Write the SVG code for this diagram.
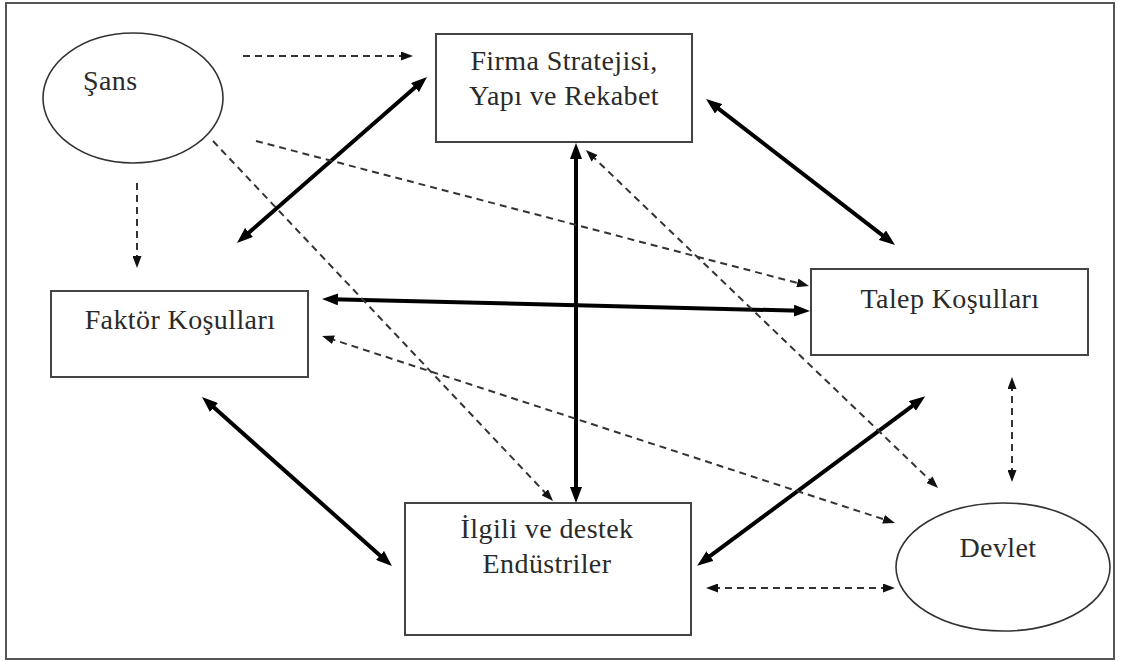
<svg xmlns="http://www.w3.org/2000/svg" width="1121" height="661" viewBox="0 0 1121 661">
<style>
.frame{fill:#fff;stroke:#555;stroke-width:2}
.box{fill:#fff;stroke:#444;stroke-width:2}
.oval{fill:#fff;stroke:#333;stroke-width:1.6}
.lbl{font-family:"Liberation Serif","Times New Roman",serif;font-size:28px;letter-spacing:0.4px;fill:#2a2a2a;text-anchor:middle}
.solid{stroke:#000;stroke-width:4;fill:none}
.dash{stroke:#333;stroke-width:2;stroke-dasharray:7 5;fill:none}
</style>
<defs>
<marker id="hs" viewBox="0 0 16 12" refX="6" refY="6" markerWidth="16" markerHeight="12" markerUnits="userSpaceOnUse" orient="auto-start-reverse"><path d="M0,0 L16,6 L0,12 z" fill="#000"/></marker>
<marker id="hd" viewBox="0 0 12 9" refX="5" refY="4.5" markerWidth="12" markerHeight="9" markerUnits="userSpaceOnUse" orient="auto-start-reverse"><path d="M0,0 L12,4.5 L0,9 z" fill="#111"/></marker>
</defs>
<rect class="frame" x="6" y="3" width="1108" height="656"/>
<g id="connectors">
<line class="solid" x1="244.5" y1="236.4" x2="419.5" y2="83.6" marker-start="url(#hs)" marker-end="url(#hs)"/>
<line class="solid" x1="713.9" y1="105.1" x2="887.1" y2="238.9" marker-start="url(#hs)" marker-end="url(#hs)"/>
<line class="solid" x1="576" y1="153" x2="576" y2="493" marker-start="url(#hs)" marker-end="url(#hs)"/>
<line class="solid" x1="332" y1="299.2" x2="800" y2="310.8" marker-start="url(#hs)" marker-end="url(#hs)"/>
<line class="solid" x1="209.5" y1="403.6" x2="384.5" y2="559.4" marker-start="url(#hs)" marker-end="url(#hs)"/>
<line class="solid" x1="917.2" y1="402.3" x2="705.2" y2="559.7" marker-start="url(#hs)" marker-end="url(#hs)"/>
<line class="dash" x1="243" y1="56" x2="406" y2="56" marker-end="url(#hd)"/>
<line class="dash" x1="137" y1="183" x2="137" y2="261" marker-end="url(#hd)"/>
<line class="dash" x1="213" y1="141" x2="548.2" y2="495.9" marker-end="url(#hd)"/>
<line class="dash" x1="256" y1="141" x2="802.2" y2="284.2" marker-end="url(#hd)"/>
<line class="dash" x1="591" y1="154.9" x2="933" y2="483.1" marker-start="url(#hd)" marker-end="url(#hd)"/>
<line class="dash" x1="328.7" y1="338.2" x2="888.3" y2="520.8" marker-start="url(#hd)" marker-end="url(#hd)"/>
<line class="dash" x1="1012" y1="384" x2="1012" y2="475" marker-start="url(#hd)" marker-end="url(#hd)"/>
<line class="dash" x1="713" y1="588" x2="888" y2="588" marker-start="url(#hd)" marker-end="url(#hd)"/>
</g>
<g id="sans">
<ellipse class="oval" cx="133" cy="98" rx="90" ry="65"/>
<text class="lbl" x="83" y="90" style="text-anchor:start">Şans</text>
</g>
<g id="firma">
<rect class="box" x="436" y="34" width="256" height="108"/>
<text class="lbl" x="564" y="70">Firma Stratejisi,</text>
<text class="lbl" x="564" y="105">Yapı ve Rekabet</text>
</g>
<g id="faktor">
<rect class="box" x="51" y="291" width="257" height="86"/>
<text class="lbl" x="180" y="329">Faktör Koşulları</text>
</g>
<g id="talep">
<rect class="box" x="811" y="269" width="277" height="86"/>
<text class="lbl" x="950" y="308">Talep Koşulları</text>
</g>
<g id="ilgili">
<rect class="box" x="405" y="503" width="286" height="132"/>
<text class="lbl" x="547" y="538">İlgili ve destek</text>
<text class="lbl" x="547" y="573">Endüstriler</text>
</g>
<g id="devlet">
<ellipse class="oval" cx="1003" cy="567" rx="107" ry="64"/>
<text class="lbl" x="998" y="557">Devlet</text>
</g>
</svg>
